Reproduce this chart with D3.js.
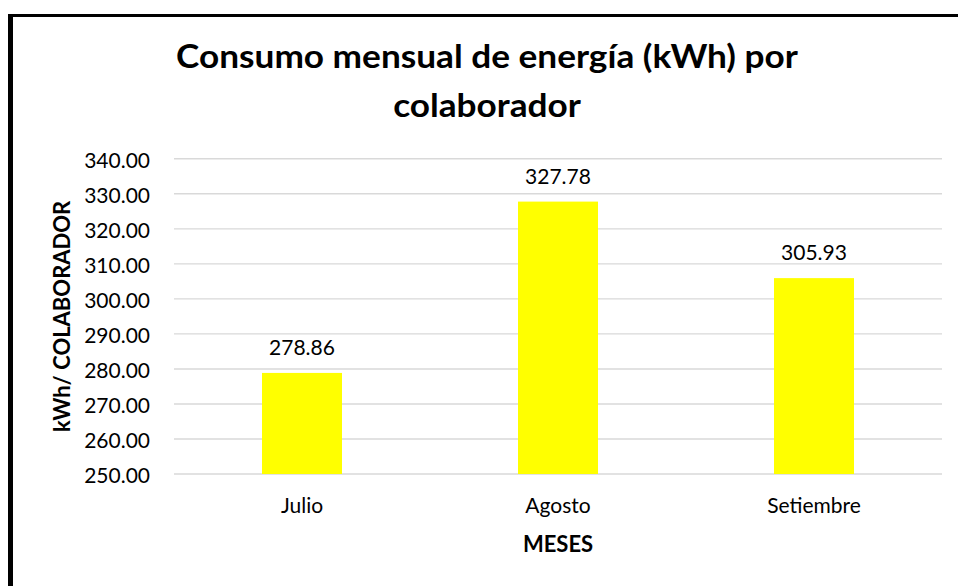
<!DOCTYPE html>
<html>
<head>
<meta charset="utf-8">
<script src="https://cdn.jsdelivr.net/npm/d3@7"></script>
<style>
  body { margin: 0; background: #fff; }
  svg { display: block; font-family: Lato, "Open Sans", sans-serif; }
</style>
</head>
<body>
<svg id="chart"></svg>
<script>
const months = ["Julio", "Agosto", "Setiembre"];
const consumo = [278.86, 327.78, 305.93];
const yTicks = [250, 260, 270, 280, 290, 300, 310, 320, 330, 340];
const titleLines = ["Consumo mensual de energía (kWh) por", "colaborador"];

const width = 958;
const height = 586;
const margin = { left: 174, right: 16, top: 158.8, bottom: 112 };

const svg = d3.select("#chart")
    .attr("width", width)
    .attr("height", height);

svg.append("rect")
    .attr("width", width)
    .attr("height", height)
    .attr("fill", "#fff");

// chart frame (right and bottom edges fall outside the picture)
svg.append("line")
    .attr("x1", 10.5).attr("x2", 10.5)
    .attr("y1", 14).attr("y2", height)
    .attr("stroke", "#000").attr("stroke-width", 5);
svg.append("line")
    .attr("x1", 8).attr("x2", width)
    .attr("y1", 15.5).attr("y2", 15.5)
    .attr("stroke", "#000").attr("stroke-width", 3);

const xScale = d3.scaleBand()
    .domain(months)
    .range([margin.left, width - margin.right])
    .paddingInner(0.6875)
    .paddingOuter(0.34375);

const yScale = d3.scaleLinear()
    .domain([250, 340])
    .range([height - margin.bottom, margin.top]);

// gridlines
svg.append("g")
    .selectAll("line")
    .data(yTicks)
    .enter()
    .append("line")
    .attr("x1", margin.left)
    .attr("x2", width - margin.right)
    .attr("y1", d => yScale(d))
    .attr("y2", d => yScale(d))
    .attr("stroke", "#d9d9d9")
    .attr("stroke-width", 1.4);

const yAxis = d3.axisLeft(yScale)
    .tickValues(yTicks)
    .tickFormat(d3.format(".2f"))
    .tickSize(0)
    .tickPadding(24);

svg.append("g")
    .attr("transform", `translate(${margin.left}, 0)`)
    .call(yAxis)
    .call(g => g.select(".domain").remove())
    .selectAll("text")
    .attr("font-family", "Lato")
    .attr("font-size", 21)
    .attr("fill", "#000")
    .attr("dy", "0.42em");

svg.selectAll("rect.bar")
    .data(consumo)
    .enter()
    .append("rect")
    .attr("class", "bar")
    .attr("x", (d, i) => xScale(months[i]))
    .attr("y", d => yScale(d))
    .attr("width", xScale.bandwidth())
    .attr("height", d => yScale(250) - yScale(d))
    .attr("fill", "#ffff00");

svg.selectAll("text.value")
    .data(consumo)
    .enter()
    .append("text")
    .attr("class", "value")
    .attr("x", (d, i) => xScale(months[i]) + xScale.bandwidth() / 2)
    .attr("y", d => yScale(d) - 18)
    .attr("text-anchor", "middle")
    .attr("font-size", 21)
    .attr("fill", "#000")
    .text(d => d3.format(".2f")(d));

const xAxis = d3.axisBottom(xScale)
    .tickSize(0)
    .tickPadding(24);

svg.append("g")
    .attr("transform", `translate(0, ${height - margin.bottom})`)
    .call(xAxis)
    .call(g => g.select(".domain").remove())
    .selectAll("text")
    .attr("font-family", "Lato")
    .attr("font-size", 21)
    .attr("fill", "#000");

// axis titles
svg.append("text")
    .attr("x", (margin.left + width - margin.right) / 2)
    .attr("y", 552)
    .attr("text-anchor", "middle")
    .attr("font-size", 22)
    .attr("font-weight", "bold")
    .text("MESES");

svg.append("text")
    .attr("transform", `translate(70, ${(yScale(250) + yScale(340)) / 2}) rotate(-90)`)
    .attr("text-anchor", "middle")
    .attr("font-size", 22)
    .attr("font-weight", "bold")
    .text("kWh/ COLABORADOR");

// chart title (the original is slightly stretched sideways)
svg.append("g")
    .selectAll("text")
    .data(titleLines)
    .enter()
    .append("text")
    .attr("transform", (d, i) => `translate(487, ${68 + i * 49}) scale(1.1, 1)`)
    .attr("text-anchor", "middle")
    .attr("font-size", 32)
    .attr("font-weight", "bold")
    .text(d => d);
</script>
</body>
</html>
